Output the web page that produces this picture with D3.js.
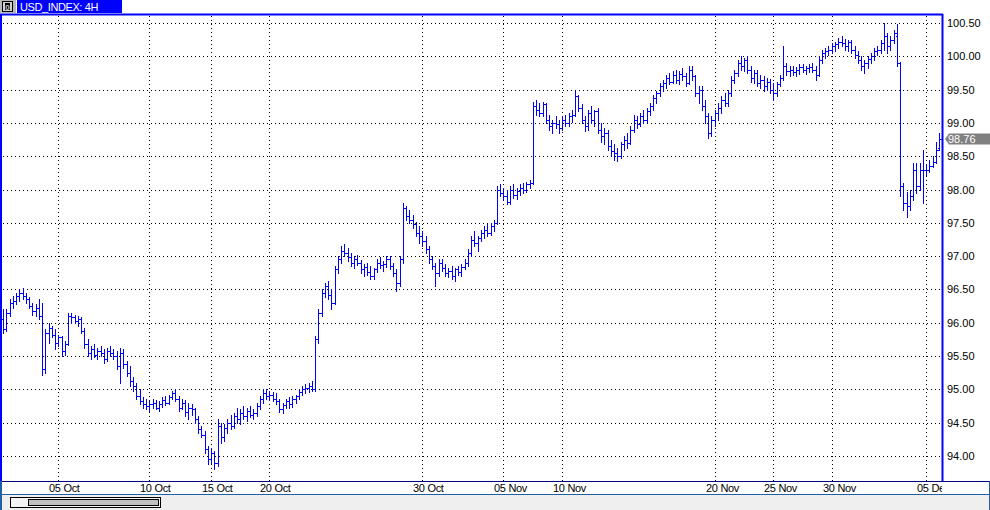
<!DOCTYPE html>
<html><head><meta charset="utf-8">
<script src="https://cdn.jsdelivr.net/npm/d3@7"></script>
<style>
html,body{margin:0;padding:0;background:#fff;overflow:hidden;}
svg{display:block;}
text{font-family:"Liberation Sans",Arial,sans-serif;}
</style></head><body>
<svg id="c" width="990" height="510"></svg>
<script>
const title = "USD_INDEX: 4H";
const open = [
96.05,95.9,96.15,96.3,96.33,96.4,96.45,96.4,96.35,96.25,96.18,96.22,96.1,95.3,95.85,95.92,95.82,
95.7,95.78,95.58,95.68,96.1,96.08,96.02,96.05,95.88,95.68,95.55,95.6,95.52,95.58,95.55,95.45,95.58,95.55,95.5,95.35,95.55,95.38,95.25,95.12,95.05,94.9,94.82,94.78,94.75,
94.78,94.8,94.72,94.78,94.84,94.8,94.88,94.95,94.86,94.72,94.8,94.66,94.72,94.7,94.55,94.4,94.32,94.1,93.95,
94.05,93.9,94.45,94.28,94.42,94.5,94.45,94.6,94.55,94.65,94.6,94.68,94.62,94.65,94.75,94.85,94.95,94.9,
94.92,94.86,94.82,94.7,94.76,94.82,94.78,94.86,94.9,94.96,95.0,95.02,95.05,95.0,
95.75,96.15,96.45,96.55,96.42,96.3,96.8,96.95,97.08,97.05,96.98,96.9,96.95,96.9,96.8,96.84,96.76,96.7,96.8,96.9,96.86,96.88,96.95,96.85,96.75,96.6,96.95,97.72,97.6,97.55,97.48,97.35,97.3,
97.22,97.1,96.95,96.85,96.75,96.9,96.82,96.75,96.78,96.7,96.8,96.76,96.84,96.9,97.05,97.25,97.2,97.28,97.35,97.4,97.35,97.45,97.5,98.0,97.95,
97.9,97.82,98.0,97.92,97.98,98.02,98.0,98.08,98.1,99.25,99.2,99.15,99.28,99.05,98.95,99.0,98.98,98.92,
99.05,99.0,99.1,99.12,99.4,99.22,99.05,98.95,99.15,99.05,99.18,98.9,98.8,98.85,98.65,98.58,98.55,98.5,98.68,98.75,98.7,98.9,99.05,98.98,99.1,99.05,99.18,99.25,99.38,99.45,99.55,99.6,99.68,99.62,99.72,99.65,99.74,99.7,99.6,99.8,99.7,99.45,99.5,99.25,99.1,98.85,99.05,
99.15,99.22,99.35,99.3,99.45,99.65,99.75,99.9,99.85,99.95,99.8,99.68,99.75,99.6,99.65,99.55,99.62,99.5,
99.45,99.58,99.68,99.85,99.78,99.8,99.76,99.8,99.84,99.8,99.82,99.84,99.8,99.72,99.95,100.05,100.08,100.1,
100.15,100.18,100.22,100.2,100.15,100.22,100.1,100.02,99.95,99.85,99.9,99.96,100.0,100.08,100.1,100.2,100.3,100.15,100.25,100.3,99.9,98.05,97.8,97.75,97.9,98.3,98.05,98.3,98.3,98.3,98.35,98.42,98.62];
const high = [
96.2,96.2,96.35,96.4,96.45,96.5,96.52,96.44,96.38,96.3,96.28,96.35,96.3,95.9,96.0,95.95,95.9,
95.82,95.8,95.72,96.14,96.15,96.12,96.1,96.08,95.92,95.75,95.65,95.68,95.62,95.65,95.6,95.62,95.65,95.6,95.58,95.62,95.6,95.42,95.35,95.18,95.1,95.0,94.88,94.85,94.82,
94.85,94.84,94.82,94.88,94.9,94.92,94.98,95.0,94.9,94.85,94.84,94.8,94.78,94.72,94.6,94.45,94.38,94.15,94.12,
94.08,94.55,94.5,94.48,94.55,94.62,94.65,94.72,94.7,94.75,94.72,94.75,94.7,94.8,94.9,95.0,95.0,94.98,
94.96,94.94,94.85,94.8,94.86,94.88,94.9,94.92,95.0,95.05,95.08,95.1,95.12,95.8,
96.2,96.5,96.6,96.62,96.5,96.85,97.0,97.15,97.18,97.12,97.05,97.0,97.02,96.94,96.88,96.9,96.85,96.82,96.95,96.98,96.92,97.0,97.0,96.9,96.8,97.0,97.8,97.75,97.7,97.62,97.52,97.45,97.38,
97.3,97.15,97.0,96.9,96.95,96.95,96.88,96.82,96.85,96.82,96.85,96.88,96.95,97.1,97.3,97.38,97.3,97.4,97.45,97.48,97.5,97.55,98.05,98.08,98.02,
98.0,98.05,98.08,98.02,98.08,98.1,98.12,98.15,99.32,99.35,99.3,99.32,99.3,99.12,99.05,99.1,99.05,99.1,
99.12,99.15,99.2,99.48,99.42,99.28,99.1,99.2,99.25,99.2,99.22,99.0,98.92,98.9,98.75,98.68,98.62,98.72,98.8,98.85,98.95,99.12,99.1,99.15,99.2,99.22,99.3,99.42,99.48,99.6,99.65,99.72,99.75,99.78,99.8,99.78,99.82,99.75,99.86,99.85,99.72,99.55,99.55,99.35,99.15,99.1,99.2,
99.3,99.4,99.45,99.5,99.7,99.8,99.95,100.0,99.98,100.0,99.85,99.8,99.8,99.72,99.7,99.68,99.66,99.6,
99.62,99.72,100.15,99.9,99.85,99.86,99.84,99.88,99.88,99.86,99.88,99.9,99.85,100.0,100.1,100.12,100.15,100.2,
100.22,100.28,100.3,100.26,100.25,100.25,100.15,100.08,100.0,99.95,100.0,100.05,100.12,100.15,100.25,100.5,100.35,100.3,100.4,100.48,99.92,98.1,97.97,98.0,98.4,98.4,98.4,98.6,98.38,98.44,98.5,98.72,98.85];
const low = [
95.85,95.88,96.1,96.22,96.28,96.33,96.36,96.3,96.22,96.12,96.1,96.05,95.22,95.25,95.7,95.78,95.6,
95.65,95.5,95.52,95.66,96.0,96.0,95.95,95.85,95.62,95.5,95.45,95.48,95.45,95.5,95.4,95.42,95.5,95.46,95.3,95.1,95.32,95.2,95.05,94.98,94.85,94.78,94.72,94.7,94.68,
94.72,94.7,94.68,94.74,94.76,94.78,94.85,94.82,94.68,94.7,94.6,94.55,94.62,94.5,94.35,94.28,94.05,93.88,93.9,
93.8,93.85,94.2,94.22,94.35,94.4,94.42,94.5,94.48,94.55,94.52,94.58,94.55,94.6,94.7,94.8,94.85,94.84,
94.82,94.78,94.66,94.65,94.72,94.72,94.74,94.8,94.85,94.92,94.95,94.96,94.98,94.98,
95.7,96.1,96.38,96.35,96.2,96.28,96.75,96.9,97.0,96.92,96.85,96.82,96.86,96.75,96.7,96.72,96.65,96.66,96.76,96.82,96.78,96.84,96.8,96.7,96.48,96.55,96.9,97.55,97.5,97.42,97.3,97.2,97.15,
97.05,96.9,96.8,96.55,96.7,96.78,96.7,96.68,96.65,96.62,96.72,96.7,96.8,96.85,97.0,97.15,97.08,97.22,97.28,97.3,97.32,97.38,97.48,97.9,97.85,
97.78,97.78,97.88,97.86,97.92,97.95,97.96,98.02,98.08,99.12,99.1,99.1,99.0,98.9,98.85,98.92,98.85,98.9,
98.95,98.96,99.02,99.1,99.18,99.0,98.88,98.9,99.0,98.95,98.85,98.72,98.68,98.6,98.5,98.45,98.43,98.48,98.6,98.62,98.68,98.86,98.92,98.95,99.0,99.02,99.12,99.2,99.3,99.4,99.48,99.52,99.58,99.6,99.6,99.58,99.65,99.55,99.58,99.65,99.4,99.3,99.2,99.0,98.78,98.8,98.95,
99.05,99.15,99.25,99.25,99.4,99.6,99.7,99.8,99.78,99.75,99.62,99.6,99.55,99.52,99.48,99.5,99.45,99.35,
99.4,99.55,99.65,99.72,99.7,99.72,99.7,99.74,99.76,99.74,99.76,99.76,99.65,99.7,99.9,99.98,100.02,100.05,
100.08,100.12,100.15,100.1,100.08,100.05,99.98,99.9,99.8,99.75,99.82,99.9,99.95,100.02,100.05,100.1,100.05,100.1,100.2,99.85,97.9,97.7,97.59,97.7,97.84,97.95,98.0,97.8,98.22,98.27,98.34,98.4,98.6];
const close = [
95.9,96.15,96.3,96.33,96.4,96.45,96.4,96.35,96.25,96.18,96.22,96.1,95.3,95.85,95.92,95.82,95.7,
95.78,95.58,95.68,96.1,96.08,96.02,96.05,95.88,95.68,95.55,95.6,95.52,95.58,95.55,95.45,95.58,95.55,95.5,95.35,95.55,95.38,95.25,95.12,95.05,94.9,94.82,94.78,94.75,94.78,
94.8,94.72,94.78,94.84,94.8,94.88,94.95,94.86,94.72,94.8,94.66,94.72,94.7,94.55,94.4,94.32,94.1,93.95,94.05,
93.9,94.45,94.28,94.42,94.5,94.45,94.6,94.55,94.65,94.6,94.68,94.62,94.65,94.75,94.85,94.95,94.9,94.92,
94.86,94.82,94.7,94.76,94.82,94.78,94.86,94.9,94.96,95.0,95.02,95.05,95.0,95.75,
96.15,96.45,96.55,96.42,96.3,96.8,96.95,97.08,97.05,96.98,96.9,96.95,96.9,96.8,96.84,96.76,96.7,96.8,96.9,96.86,96.88,96.95,96.85,96.75,96.6,96.95,97.72,97.6,97.55,97.48,97.35,97.3,97.22,
97.1,96.95,96.85,96.75,96.9,96.82,96.75,96.78,96.7,96.8,96.76,96.84,96.9,97.05,97.25,97.2,97.28,97.35,97.4,97.35,97.45,97.5,98.0,97.95,97.9,
97.82,98.0,97.92,97.98,98.02,98.0,98.08,98.1,99.25,99.2,99.15,99.28,99.05,98.95,99.0,98.98,98.92,99.05,
99.0,99.1,99.12,99.4,99.22,99.05,98.95,99.15,99.05,99.18,98.9,98.8,98.85,98.65,98.58,98.55,98.5,98.68,98.75,98.7,98.9,99.05,98.98,99.1,99.05,99.18,99.25,99.38,99.45,99.55,99.6,99.68,99.62,99.72,99.65,99.74,99.7,99.6,99.8,99.7,99.45,99.5,99.25,99.1,98.85,99.05,99.15,
99.22,99.35,99.3,99.45,99.65,99.75,99.9,99.85,99.95,99.8,99.68,99.75,99.6,99.65,99.55,99.62,99.5,99.45,
99.58,99.68,99.85,99.78,99.8,99.76,99.8,99.84,99.8,99.82,99.84,99.8,99.72,99.95,100.05,100.08,100.1,100.15,
100.18,100.22,100.2,100.15,100.22,100.1,100.02,99.95,99.85,99.9,99.96,100.0,100.08,100.1,100.2,100.3,100.15,100.25,100.35,99.9,98.05,97.8,97.75,97.9,98.3,98.05,98.3,98.3,98.3,98.35,98.42,98.6,98.76];
const priceTicks = [94,94.5,95,95.5,96,96.5,97,97.5,98,98.5,99,99.5,100,100.5];
const dateLabels = ["05 Oct","10 Oct","15 Oct","20 Oct","30 Oct","05 Nov","10 Nov","20 Nov","25 Nov","30 Nov","05 Dec"];
const dateIndex  = [17,45,64,82,129,154,172,219,237,255,284];
const lastPrice = 98.76;

const N = close.length;
const svg = d3.select("#c");
const PL = 1, PR = 942, PT = 14, PB = 481;
const x = d3.scaleLinear().domain([0, N - 1]).range([3, 939]);
const y = d3.scaleLinear().domain([94, 100.5]).range([456, 23]);
const px = v => Math.round(v) + 0.5;

svg.append("rect").attr("width", 990).attr("height", 510).attr("fill", "#fff");

// grid
const grid = svg.append("g").attr("stroke", "#000").attr("stroke-width", 1).attr("stroke-dasharray", "1,3").attr("shape-rendering", "crispEdges");
grid.selectAll("line.h").data(priceTicks).join("line")
  .attr("x1", PL + 2).attr("x2", PR).attr("y1", d => px(y(d))).attr("y2", d => px(y(d)));
grid.selectAll("line.v").data(dateIndex).join("line")
  .attr("y1", PT + 2).attr("y2", PB).attr("x1", d => px(x(d))).attr("x2", d => px(x(d)));

// bars
const bars = svg.append("g").attr("stroke", "#0000ff").attr("stroke-width", 1).attr("shape-rendering", "crispEdges");
d3.range(N).forEach(i => {
  const cx = px(x(i));
  bars.append("line").attr("x1", cx).attr("x2", cx).attr("y1", Math.round(y(high[i]))).attr("y2", Math.round(y(low[i])) + 1);
  bars.append("line").attr("x1", cx - 2).attr("x2", cx).attr("y1", px(y(open[i]))).attr("y2", px(y(open[i])));
  bars.append("line").attr("x1", cx).attr("x2", cx + 2).attr("y1", px(y(close[i]))).attr("y2", px(y(close[i])));
});

// plot frame
svg.append("line").attr("x1", 0).attr("x2", PR + 1).attr("y1", PT + 0.5).attr("y2", PT + 0.5).attr("stroke", "#0000ff").attr("stroke-width", 2);
svg.append("line").attr("x1", 1).attr("x2", 1).attr("y1", PT).attr("y2", 510).attr("stroke", "#0000ff").attr("stroke-width", 2);
svg.append("line").attr("x1", PR + 0.5).attr("x2", PR + 0.5).attr("y1", PT).attr("y2", PB).attr("stroke", "#0000ff").attr("stroke-width", 2);

// right axis
svg.append("g").selectAll("text").data(priceTicks).join("text")
  .attr("x", 947).attr("y", d => y(d) + 4).attr("font-size", 11).attr("fill", "#000")
  .text(d => d.toFixed(2));

// last price marker
const ly = y(lastPrice);
svg.append("path").attr("d", `M945,${ly} L949,${ly - 5.5} L990,${ly - 5.5} L990,${ly + 5.5} L949,${ly + 5.5} Z`).attr("fill", "#808080");
svg.append("text").attr("x", 948).attr("y", ly + 4).attr("font-size", 11).attr("fill", "#fff").text(lastPrice.toFixed(2));

// x axis area
svg.append("line").attr("x1", 0).attr("x2", 990).attr("y1", PB + 0.5).attr("y2", PB + 0.5).attr("stroke", "#000080").attr("stroke-width", 1);
svg.append("clipPath").attr("id", "xc").append("rect").attr("x", 0).attr("y", PB).attr("width", PR).attr("height", 14);
svg.append("g").attr("clip-path", "url(#xc)").selectAll("text").data(dateLabels).join("text")
  .attr("x", (d, i) => Math.round(x(dateIndex[i])) - 9).attr("y", 492).attr("font-size", 11).attr("letter-spacing", "-0.3").attr("fill", "#000")
  .text(d => d);

// scroll area
svg.append("rect").attr("x", 0).attr("y", 494).attr("width", 990).attr("height", 16).attr("fill", "#efefef");
svg.append("line").attr("x1", 0).attr("x2", 990).attr("y1", 494.5).attr("y2", 494.5).attr("stroke", "#1f5fa8").attr("stroke-width", 1);
svg.append("line").attr("x1", 989.5).attr("x2", 989.5).attr("y1", PB).attr("y2", 510).attr("stroke", "#1f5fa8").attr("stroke-width", 1);
svg.append("line").attr("x1", 1).attr("x2", 1).attr("y1", PB).attr("y2", 510).attr("stroke", "#1f5fa8").attr("stroke-width", 2);
svg.append("rect").attr("x", 10.5).attr("y", 497.5).attr("width", 150).attr("height", 10).attr("fill", "#f4f4f4").attr("stroke", "#000");
svg.append("rect").attr("x", 28.5).attr("y", 499.5).attr("width", 130).attr("height", 6).attr("fill", "#c0c0c0").attr("stroke", "#000");

// title bar
svg.append("rect").attr("x", 0).attr("y", 0).attr("width", 16).attr("height", 13).attr("fill", "#b8b8b8");
svg.append("rect").attr("x", 2.5).attr("y", 1.5).attr("width", 10).attr("height", 10).attr("fill", "#d0d0d0").attr("stroke", "#000");
svg.append("rect").attr("x", 5).attr("y", 3).attr("width", 5).attr("height", 7).attr("fill", "#000");
svg.append("text").attr("x", 7.5).attr("y", 9.5).attr("font-size", 8).attr("font-weight", "bold").attr("text-anchor", "middle").attr("fill", "#ccc").text("0");
svg.append("rect").attr("x", 17).attr("y", 0).attr("width", 105).attr("height", 13).attr("fill", "#0000ff");
svg.append("text").attr("x", 20).attr("y", 11).attr("font-size", 11).attr("letter-spacing", "-0.4").attr("fill", "#fff").text(title);
</script></body></html>
